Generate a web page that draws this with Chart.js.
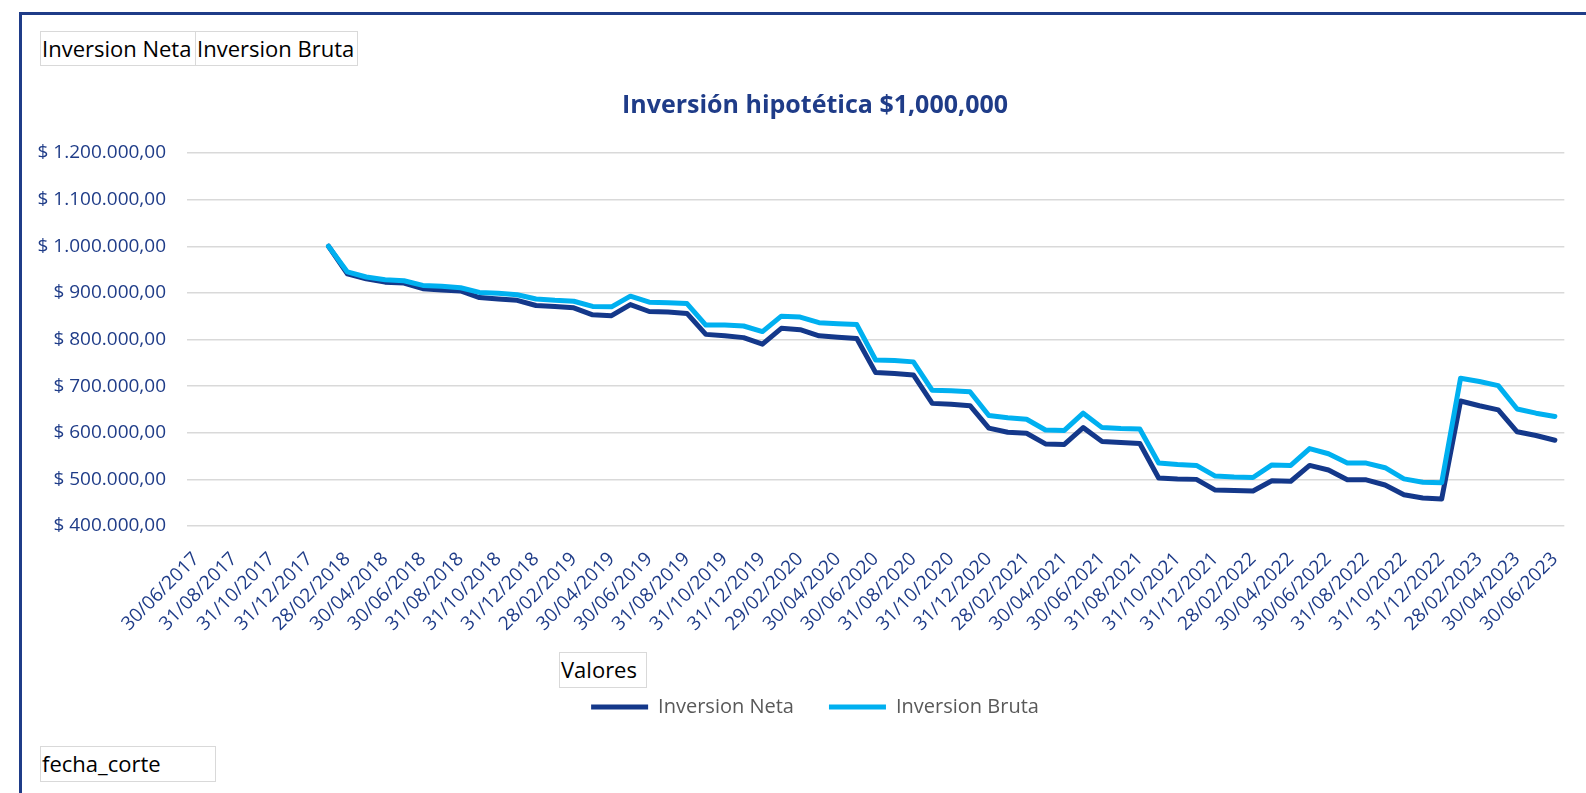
<!DOCTYPE html>
<html>
<head>
    <meta charset="utf-8">
    <title>Inversión hipotética</title>
    <script src="https://cdn.jsdelivr.net/npm/chart.js@4.4.0/dist/chart.umd.min.js"></script>
    <style type="text/css">
      html, body { margin: 0; background: #fff; overflow: hidden; }
      #frame {
        position: absolute; left: 19px; top: 12px; width: 1564px; height: 778px;
        border-left: 3px solid #1f3c88; border-top: 3px solid #1f3c88;
      }
      #chart-container {
        position: absolute; left: 37px; top: 15px;
        width: 1556px; height: 712px;
      }
      .pivot {
        position: absolute; box-sizing: border-box; background: #fff;
        border: 1px solid #d9d9d9; font-family: "Open Sans", sans-serif;
        font-size: 22px; color: #000; line-height: 33px; white-space: nowrap;
        padding-left: 1px;
      }
    </style>
</head>
<body>
  <div id="frame"></div>
  <div id="chart-container">
    <canvas id="mycanvas"></canvas>
  </div>
  <div class="pivot" style="left:40px;top:31px;width:156px;height:35px;">Inversion Neta</div>
  <div class="pivot" style="left:195px;top:31px;width:163px;height:35px;">Inversion Bruta</div>
  <div class="pivot" style="left:559px;top:652px;width:88px;height:36px;">Valores</div>
  <div class="pivot" style="left:40px;top:746px;width:176px;height:36px;">fecha_corte</div>
<script>

var fechas = [
  '30/06/2017','31/07/2017','31/08/2017','30/09/2017','31/10/2017','30/11/2017','31/12/2017',
  '31/01/2018','28/02/2018','31/03/2018','30/04/2018','31/05/2018','30/06/2018',
  '31/07/2018','31/08/2018','30/09/2018','31/10/2018','30/11/2018','31/12/2018',
  '31/01/2019','28/02/2019','31/03/2019','30/04/2019','31/05/2019','30/06/2019',
  '31/07/2019','31/08/2019','30/09/2019','31/10/2019','30/11/2019','31/12/2019',
  '31/01/2020','29/02/2020','31/03/2020','30/04/2020','31/05/2020','30/06/2020',
  '31/07/2020','31/08/2020','30/09/2020','31/10/2020','30/11/2020','31/12/2020',
  '31/01/2021','28/02/2021','31/03/2021','30/04/2021','31/05/2021','30/06/2021',
  '31/07/2021','31/08/2021','30/09/2021','31/10/2021','30/11/2021','31/12/2021',
  '31/01/2022','28/02/2022','31/03/2022','30/04/2022','31/05/2022','30/06/2022',
  '31/07/2022','31/08/2022','30/09/2022','31/10/2022','30/11/2022','31/12/2022',
  '31/01/2023','28/02/2023','31/03/2023','30/04/2023','31/05/2023','30/06/2023'
];

var inversionNeta = [
  null, null, null, null, null, null, null,
  1000000, 941000, 930000, 923000, 921000, 909000,
  906000, 904000, 890000, 887000, 884000, 873000,
  871000, 868000, 853000, 851000, 875000, 860000,
  859000, 856000, 811000, 808000, 804000, 790000,
  824000, 821000, 808000, 805000, 802000, 729000,
  727000, 724000, 663000, 661000, 658000, 610000,
  601000, 599000, 576000, 575000, 611000, 581000,
  579000, 577000, 503000, 501000, 500000, 477000,
  476000, 475000, 497000, 496000, 530000, 520000,
  499000, 499000, 488000, 467000, 460000, 458000,
  668000, 658000, 649000, 602000, 594000, 584000
];

var inversionBruta = [
  null, null, null, null, null, null, null,
  1000000, 945000, 934000, 928000, 926000, 916000,
  914000, 911000, 901000, 899000, 896000, 887000,
  884000, 882000, 871000, 870000, 893000, 880000,
  879000, 877000, 831000, 831000, 829000, 817000,
  850000, 848000, 836000, 834000, 832000, 756000,
  755000, 752000, 691000, 690000, 688000, 637000,
  632000, 629000, 606000, 605000, 642000, 611000,
  609000, 608000, 535000, 532000, 530000, 507000,
  505000, 504000, 531000, 530000, 566000, 555000,
  535000, 535000, 525000, 501000, 494000, 493000,
  717000, 710000, 701000, 651000, 642000, 635000
];

var ejeMin = 400000;
var ejeMax = 1200000;
var ejePaso = 100000;

var azulTexto = '#1f3c88';

function formatoPesos(v) {
  var s = Math.round(v).toString().replace(/\B(?=(\d{3})+(?!\d))/g, '.');
  return '$ ' + s + ',00';
}

var chartdata = {
  labels: fechas,
  datasets: [
    {
      label: 'Inversion Neta',
      data: inversionNeta,
      borderColor: '#14388a',
      backgroundColor: '#14388a',
      borderWidth: 5,
      pointRadius: 0,
      tension: 0,
      borderJoinStyle: 'round',
      borderCapStyle: 'round',
      order: 1
    },
    {
      label: 'Inversion Bruta',
      data: inversionBruta,
      borderColor: '#00b0f0',
      backgroundColor: '#00b0f0',
      borderWidth: 5,
      pointRadius: 0,
      tension: 0,
      borderJoinStyle: 'round',
      borderCapStyle: 'round',
      order: 0
    }
  ]
};

var ctx = document.getElementById('mycanvas');

new Chart(ctx, {
  type: 'line',
  data: chartdata,
  options: {
    responsive: true,
    maintainAspectRatio: false,
    animation: false,
    layout: { padding: { left: 0, right: 0, top: 0, bottom: 0 } },
    plugins: {
      title: {
        display: true,
        text: 'Inversión hipotética $1,000,000',
        color: azulTexto,
        font: { family: 'Open Sans', size: 25, weight: 'bold', lineHeight: 1.2 },
        padding: { top: 76, bottom: 32 }
      },
      legend: {
        display: true,
        position: 'bottom',
        labels: {
          usePointStyle: true,
          pointStyle: 'line',
          pointStyleWidth: 57,
          color: '#595959',
          padding: 35,
          font: { family: 'Open Sans', size: 20 },
          sort: function(a, b) { return a.datasetIndex - b.datasetIndex; }
        }
      },
      tooltip: { enabled: false }
    },
    scales: {
      x: {
        offset: true,
        grid: { display: false, drawTicks: false },
        border: { display: false },
        ticks: {
          autoSkip: false,
          minRotation: 45,
          maxRotation: 45,
          padding: 22,
          color: azulTexto,
          font: { family: 'Open Sans', size: 19 },
          callback: function(value, index) {
            return index % 2 === 0 ? this.getLabelForValue(value) : '';
          }
        },
        afterFit: function(scale) { scale.height = 136; }
      },
      y: {
        min: ejeMin,
        max: ejeMax,
        grid: { color: '#d9d9d9', lineWidth: 1.5, drawTicks: false },
        border: { display: false },
        ticks: {
          stepSize: ejePaso,
          padding: 21,
          color: azulTexto,
          font: { family: 'Open Sans', size: 19 },
          callback: function(value) { return formatoPesos(value); }
        },
        afterFit: function(scale) { scale.width = 150; }
      }
    }
  }
});
</script>
</body>
</html>
